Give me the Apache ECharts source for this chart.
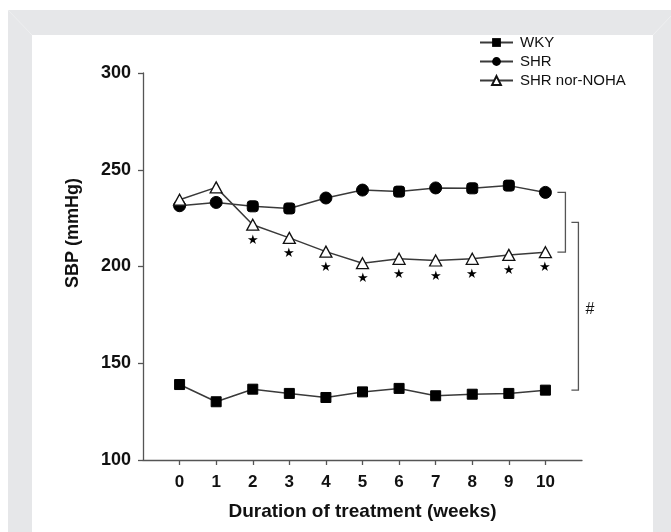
<!DOCTYPE html>
<html>
<head>
<meta charset="utf-8">
<script src="https://cdn.jsdelivr.net/npm/echarts@6/dist/echarts.min.js"></script>
<style>
html,body{margin:0;padding:0;background:#fff;}
#c{width:671px;height:532px;}
</style>
</head>
<body>
<div id="c"></div>
<script>
var weeks = [0,1,2,3,4,5,6,7,8,9,10];
var wky = [139.0,130.1,136.6,134.4,132.3,135.2,137.0,133.2,134.0,134.4,136.1];
var shr = [231.4,233.1,231.1,230.0,235.4,239.5,238.7,240.6,240.4,241.8,238.3];
var noha = [234.5,240.9,221.6,214.8,207.7,201.7,204.0,203.1,204.0,206.0,207.4];
var signif = [false,false,true,true,true,true,true,true,true,true,true];
var shrSquareLike = [false,false,true,true,false,false,true,false,true,true,false];
var yTicks = [100,150,200,250,300];
var seriesNames = ['WKY','SHR','SHR nor-NOHA'];

var FONT = '"Liberation Sans", Arial, Helvetica, sans-serif';

function pairs(vals){ return weeks.map(function(w,i){ return [w, vals[i]]; }); }

var chart = echarts.init(document.getElementById('c'), null, {renderer:'canvas'});

var lineStyle = {color:'#3a3a3a', width:1.5};

var option = {
  animation:false,
  backgroundColor:'#ffffff',
  textStyle:{fontFamily:FONT},
  legend:{
    orient:'vertical',
    left:474, top:30,
    itemWidth:33, itemHeight:11, itemGap:4,
    textStyle:{fontFamily:FONT, fontSize:15, color:'#111', padding:[0,0,0,2]},
    data:seriesNames
  },
  grid:{left:143, right:89, top:73, bottom:72, containLabel:false},
  xAxis:{
    type:'value', min:-1, max:11,
    name:'Duration of treatment (weeks)',
    nameLocation:'middle', nameGap:42,
    nameTextStyle:{fontFamily:FONT, fontSize:19, fontWeight:'bold', color:'#111'},
    axisLine:{show:true, onZero:false, lineStyle:{color:'#555', width:1.3}},
    axisTick:{show:true, length:5, inside:false, customValues:weeks, lineStyle:{color:'#555', width:1.3}},
    axisLabel:{show:true, customValues:weeks, margin:14, fontFamily:FONT, fontSize:17, fontWeight:'bold', color:'#111'},
    splitLine:{show:false}
  },
  yAxis:{
    type:'value', min:100, max:300, interval:50,
    axisLine:{show:true, onZero:false, lineStyle:{color:'#555', width:1.3}},
    axisTick:{show:true, length:5, lineStyle:{color:'#555', width:1.3}},
    axisLabel:{show:true, margin:12, fontFamily:FONT, fontSize:18, fontWeight:'bold', color:'#111',
      formatter:function(v){ return yTicks.indexOf(v)>=0 ? String(v) : ''; }},
    splitLine:{show:false}
  },
  series:[
    {
      name:seriesNames[0], type:'line', data:pairs(wky),
      symbol:'rect', symbolSize:10,
      lineStyle:lineStyle, itemStyle:{color:'#000', borderColor:'#000'}, z:3
    },
    {
      name:seriesNames[1], type:'line',
      data:pairs(shr).map(function(p,i){
        return shrSquareLike[i] ? {value:p, symbol:'roundRect', symbolSize:11} : {value:p};
      }),
      symbol:'circle', symbolSize:12,
      lineStyle:lineStyle, itemStyle:{color:'#000', borderColor:'#000'}, z:3
    },
    {
      name:seriesNames[2], type:'line',
      data:pairs(noha).map(function(p,i){
        return signif[i] ? {value:p, label:{show:true, position:'bottom', distance:3, formatter:'\u2605', fontSize:13, color:'#000'}} : {value:p};
      }),
      symbol:'triangle', symbolSize:[12,11],
      lineStyle:lineStyle, itemStyle:{color:'#fff', borderColor:'#111', borderWidth:1.3}, z:4
    }
  ]
};
chart.setOption(option);

function px(x,y){ return chart.convertToPixel({gridIndex:0},[x,y]); }

var last = weeks.length-1;
var pS = px(weeks[last], shr[last]);
var pN = px(weeks[last], noha[last]);
var pW = px(weeks[last], wky[last]);
var mid = (pS[1]+pN[1])/2;
var b1x = pS[0]+20, b2x = pS[0]+33;
var br = {stroke:'#555', lineWidth:1.3, fill:null};

chart.setOption({
  graphic:[
    {type:'rect', z:-10, silent:true, shape:{x:8, y:10, width:663, height:522}, style:{fill:'#e6e7e9'}},
    {type:'line', z:-9, silent:true, shape:{x1:8,y1:10,x2:32,y2:35}, style:{stroke:'#eeeff0', lineWidth:1}},
    {type:'line', z:-9, silent:true, shape:{x1:671,y1:16,x2:653,y2:35}, style:{stroke:'#eeeff0', lineWidth:1}},
    {type:'rect', z:-8, silent:true, shape:{x:32, y:35, width:621, height:497}, style:{fill:'#ffffff'}},
    {type:'polyline', z:5, silent:true, shape:{points:[[b1x-8,pS[1]],[b1x,pS[1]],[b1x,pN[1]],[b1x-8,pN[1]]]}, style:br},
    {type:'polyline', z:5, silent:true, shape:{points:[[b2x-7,mid],[b2x,mid],[b2x,pW[1]],[b2x-7,pW[1]]]}, style:br},
    {type:'text', z:5, silent:true, x:b2x+7, y:(mid+pW[1])/2+3, style:{text:'#', font:'16px '+FONT, fill:'#111', verticalAlign:'middle', align:'left'}},
    {type:'text', z:5, silent:true, x:73, y:233, rotation:Math.PI/2, style:{text:'SBP (mmHg)', font:'bold 18px '+FONT, fill:'#111', align:'center', verticalAlign:'middle'}}
  ]
});
</script>
</body>
</html>
